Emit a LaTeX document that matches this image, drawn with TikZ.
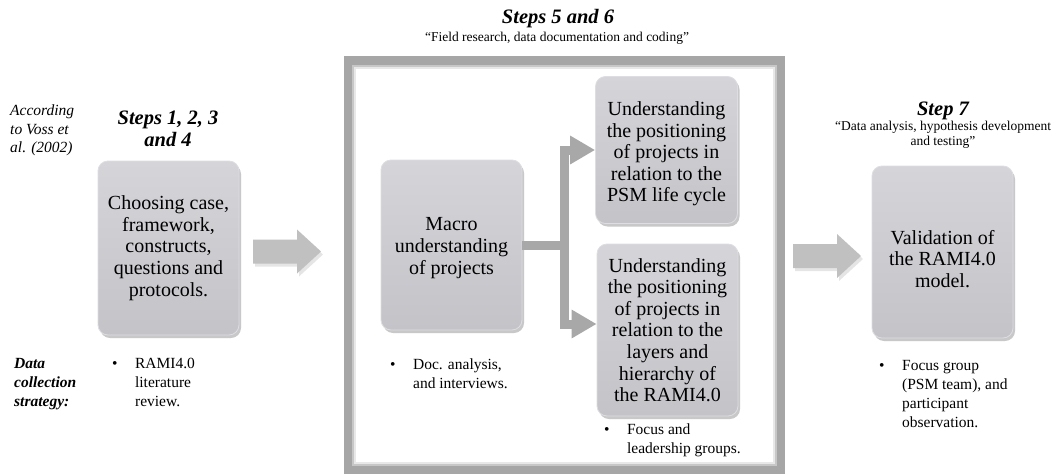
\documentclass[tikz,border=0pt]{standalone}
\usepackage{fontspec}
\setmainfont{Liberation Serif}
\usetikzlibrary{arrows.meta,shadows,calc}

\definecolor{boxtop}{RGB}{213,212,217}
\definecolor{boxbot}{RGB}{196,195,200}
\definecolor{boxedge}{RGB}{222,221,226}
\definecolor{arrowfill}{RGB}{192,192,192}
\definecolor{framegray}{RGB}{166,166,166}
\definecolor{conngray}{RGB}{168,168,168}

% bullet list set as a two-column tabular: bullet, then the item's lines
\newcommand\bulitem[1]{\begin{tabular}{@{}l@{\hspace{17.5pt}}l@{}}\textbullet & #1\end{tabular}}

\tikzset{
  stagebox/.style={rectangle, rounded corners=10pt, top color=boxtop, bottom color=boxbot,
    draw=boxedge, line width=0.8pt, align=center, inner sep=0pt,
    font=\fontsize{20}{21.6}\selectfont,
    drop shadow={shadow xshift=2pt, shadow yshift=-3pt, opacity=0.3, fill=black!70}},
  boxtext/.style={align=center, inner sep=0pt, font=\fontsize{20}{21.6}\selectfont},
  heading/.style={align=center, inner sep=0pt, font=\bfseries\itshape\fontsize{20.5}{22}\selectfont},
  quote/.style={align=center, inner sep=0pt, font=\fontsize{13.5}{15}\selectfont},
  side/.style={align=left, inner sep=0pt, anchor=north west},
  bultext/.style={side, font=\fontsize{15.5}{19}\selectfont},
  flow/.style={draw=conngray, line width=9pt, line join=miter,
    -{Triangle[length=25pt,width=27pt]}},
  barrow/.pic={
    \fill[black, opacity=0.1, xshift=2pt, yshift=-3pt]
      (0,-12) -- (44,-12) -- (44,-22) -- (68,0) -- (44,22) -- (44,12) -- (0,12) -- cycle;
    \fill[arrowfill]
      (0,-12) -- (44,-12) -- (44,-22) -- (68,0) -- (44,22) -- (44,12) -- (0,12) -- cycle;
  }
}

\begin{document}
\begin{tikzpicture}[x=1pt, y=-1pt]
  \useasboundingbox (0,0) rectangle (1060,474);
  \fill[white] (0,0) rectangle (1060,474);

  % frame around steps 5 and 6, with a soft inner edge
  \draw[black!22, line width=2pt] (353,66) rectangle (776,465);
  \draw[black!9, line width=2pt] (355,68) rectangle (774,463);
  \node[draw=framegray, line width=8.5pt, minimum width=433pt, minimum height=409.5pt,
        inner sep=0pt] (frame) at (564.5,265.25) {};

  % stage boxes
  \node[stagebox, minimum width=141pt, minimum height=174pt] (choose) at (168.5,248)
    {Choosing case,\\framework,\\constructs,\\questions and\\protocols.};
  \node[stagebox, minimum width=141pt, minimum height=170pt,
        label={[boxtext, yshift=-3pt]center:Macro\\understanding\\of projects}] (macro) at (451.5,245) {};
  \node[stagebox, minimum width=142pt, minimum height=147pt,
        label={[boxtext, yshift=-4pt]center:Understanding\\the positioning\\of projects in\\relation to the\\PSM life cycle}] (psm) at (666.5,150) {};
  \node[stagebox, minimum width=141pt, minimum height=172pt] (layers) at (667.5,330)
    {Understanding\\the positioning\\of projects in\\relation to the\\layers and\\hierarchy of\\the RAMI4.0};
  \node[stagebox, minimum width=141pt, minimum height=172pt,
        label={[boxtext, yshift=-7pt]center:Validation of\\the RAMI4.0\\model.}] (valid) at (942.5,252) {};

  % block arrows between the phases
  \pic at (253,251.5) {barrow};
  \pic at (793,256) {barrow};

  % branching flow inside the frame
  \draw[flow] (macro.east) -- ++(42,0) |- (psm.west);
  \draw[flow] (macro.east) -- ++(42,0) |- ([yshift=6pt]layers.west);

  % headings
  \node[side, font=\itshape\fontsize{15.5}{18.5}\selectfont] (voss) at (10,105)
    {According\\to Voss et\\al. (2002)};
  \node[heading] (h1) at (168,129) {Steps 1, 2, 3\\and 4};
  \node[heading] (h2) at (558,19) {Steps 5 and 6};
  \node[quote] (q2) at (557,38)
    {``Field research, data documentation and coding''};
  \node[heading] (h3) at (943,111) {Step 7};
  \node[quote, anchor=north] (q3) at (943,121)
    {``Data analysis, hypothesis development\\and testing''};

  % data collection strategy
  \node[side, font=\bfseries\itshape\fontsize{15.5}{19}\selectfont] (dcs) at (14,358)
    {Data\\collection\\strategy:};
  \node[bultext] (t1) at (112,355) {\bulitem{RAMI4.0\\ & literature\\ & review.}};
  \node[bultext] (t2) at (390,356) {\bulitem{Doc. analysis,\\ & and interviews.}};
  \node[bultext] (t3) at (604,421) {\bulitem{Focus and\\ & leadership groups.}};
  \node[bultext] (t4) at (879,357) {\bulitem{Focus group\\ & (PSM team), and\\ & participant\\ & observation.}};
\end{tikzpicture}
\end{document}
